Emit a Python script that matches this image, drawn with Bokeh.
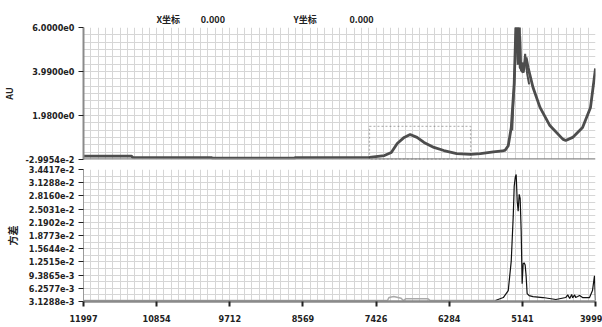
import numpy as np
from bokeh.plotting import figure
from bokeh.layouts import column
from bokeh.models import Range1d, FixedTicker, Span, BoxAnnotation, LinearAxis
from bokeh.embed import file_html
from bokeh.resources import INLINE

# ---------------- data ----------------
x_tick_labels = ["11997", "10854", "9712", "8569", "7426", "6284", "5141", "3999"]
x_ticks = [float(t) for t in x_tick_labels]

top_tick_values = [6.0, 3.99, 1.98, -0.029954]
top_tick_labels = ["6.0000e0", "3.9900e0", "1.9800e0", "-2.9954e-2"]

bot_tick_values = [0.034417, 0.031288, 0.028160, 0.025031, 0.021902, 0.018773,
                   0.015644, 0.012515, 0.0093865, 0.0062577, 0.0031288]
bot_tick_labels = ["3.4417e-2", "3.1288e-2", "2.8160e-2", "2.5031e-2", "2.1902e-2",
                   "1.8773e-2", "1.5644e-2", "1.2515e-2", "9.3865e-3", "6.2577e-3",
                   "3.1288e-3"]

# header readout ("X坐标 0.000  Y坐标 0.000"), placed along the x scale
title_texts = ["X坐标", "0.000", "Y坐标", "0.000"]
title_pos = [10673, 9976, 8536, 7654]

# mean spectrum (AU)
top_x = [11997, 11246, 11230, 10000, 9980, 8700, 8690, 7530, 7297, 7189, 7096, 6988,
         6895, 6787, 6678, 6523, 6368, 6167, 5950, 5795, 5594, 5450, 5408, 5362,
         5315, 5269, 5238, 5222, 5207, 5191, 5176, 5160, 5129, 5083, 5052, 4975,
         4866, 4712, 4510, 4464, 4356, 4201, 4077, 3999]
top_y = [0.12, 0.12, 0.07, 0.06, 0.03, 0.03, 0.06, 0.07, 0.15, 0.29, 0.70, 0.98,
         1.11, 0.98, 0.75, 0.52, 0.38, 0.24, 0.20, 0.24, 0.32, 0.36, 0.40, 0.60,
         1.43, 3.44, 6.50, 6.50, 4.30, 6.50, 4.17, 4.10, 3.94, 4.63, 4.17, 3.26,
         2.35, 1.52, 0.90, 0.84, 0.98, 1.43, 2.35, 4.13]

# spread of the spectra around the main peak
peak_x = [5300, 5253, 5238, 5222, 5207, 5191, 5176, 5160, 5145, 5129, 5114, 5098, 5083, 5067, 5036]
peak_y = [1.30, 4.60, 6.50, 5.20, 6.50, 4.60, 5.60, 4.00, 4.40, 4.10, 4.30, 4.80, 4.30, 3.90, 3.40]

# variance (方差)
bot_gray_x = [11997, 7250, 7223, 7150, 7036, 7000, 6960, 6620, 6580, 5563]
bot_gray_y = [0.00336, 0.00336, 0.00410, 0.00430, 0.00390, 0.00336, 0.00380, 0.00380,
              0.00336, 0.00336]

bot_x = [5563, 5439, 5362, 5315, 5284, 5269, 5253, 5238, 5222, 5207, 5191, 5176,
         5160, 5145, 5129, 5114, 5098, 5083, 5067, 5036, 4975, 4820, 4618, 4464,
         4433, 4402, 4371, 4356, 4325, 4309, 4278, 4247, 4201, 4092, 4046, 4015, 4000]
bot_y = [0.00336, 0.00407, 0.00572, 0.01277, 0.02336, 0.03042, 0.03253, 0.03324,
         0.02689, 0.02454, 0.02854, 0.02759, 0.01983, 0.00736, 0.01207, 0.01230,
         0.01180, 0.00924, 0.00501, 0.00454, 0.00430, 0.00407, 0.00360, 0.00407,
         0.00470, 0.00383, 0.00480, 0.00400, 0.00470, 0.00407, 0.00430, 0.00454,
         0.00407, 0.00407, 0.00572, 0.00924, 0.00336]

rect_bounds = {"left": 7530, "right": 5950, "bottom": -0.029954, "top": 1.48}

# ---------------- styling helpers ----------------
LABEL_FONT = "Liberation Sans Narrow, DejaVu Sans Condensed, Liberation Sans, sans-serif"
GRID = "#d6d6d6"
TXT = "#222222"


def minor_between(ticks, n):
    out = []
    for a, b in zip(ticks[:-1], ticks[1:]):
        out.extend(np.linspace(a, b, n + 1)[1:-1].tolist())
    return out


def style_y(ax):
    ax.major_tick_line_color = TXT
    ax.major_tick_out = 5
    ax.major_tick_in = 0
    ax.minor_tick_line_color = None
    ax.major_label_standoff = 4
    ax.major_label_text_font = LABEL_FONT
    ax.major_label_text_font_size = "9px"
    ax.major_label_text_font_style = "bold"
    ax.major_label_text_color = TXT
    ax.axis_label_text_font = "Noto Sans CJK SC"
    ax.axis_label_text_font_style = "bold"
    ax.axis_label_text_color = TXT
    ax.axis_label_standoff = 6


x_minor = minor_between(x_ticks, 10)

# ---------------- top panel ----------------
p1 = figure(width=602, height=164, output_backend="svg", toolbar_location=None,
            x_range=Range1d(x_ticks[0], x_ticks[-1]),
            y_range=Range1d(top_tick_values[-1], top_tick_values[0]),
            min_border_left=75, min_border_right=7, min_border_top=27,
            min_border_bottom=5)
p1.outline_line_color = None
p1.xaxis.visible = False
p1.xgrid.ticker = FixedTicker(ticks=x_ticks, minor_ticks=x_minor)
top_sorted = sorted(top_tick_values)
p1.yaxis.ticker = FixedTicker(ticks=top_tick_values,
                              minor_ticks=minor_between(top_sorted, 6))
p1.yaxis.major_label_overrides = {v: l for v, l in zip(top_tick_values, top_tick_labels)}
for g in (p1.xgrid, p1.ygrid):
    g.grid_line_color = GRID
    g.minor_grid_line_color = GRID
style_y(p1.yaxis)
p1.yaxis.axis_line_color = "#8a8a8a"
p1.yaxis.axis_line_width = 2
p1.yaxis.axis_label = "AU"
p1.yaxis.axis_label_text_font_size = "9px"

# header readout as an axis above the frame (no line, no ticks)
head = LinearAxis(ticker=FixedTicker(ticks=title_pos, minor_ticks=[]),
                  major_label_overrides={v: t for v, t in zip(title_pos, title_texts)},
                  axis_line_color=None, major_tick_line_color=None,
                  minor_tick_line_color=None, major_tick_out=0, major_tick_in=0,
                  minor_tick_out=0, minor_tick_in=0, major_label_standoff=2,
                  major_label_text_font="Noto Sans CJK SC",
                  major_label_text_font_size="9px",
                  major_label_text_font_style="bold",
                  major_label_text_color=TXT)
p1.add_layout(head, "above")

p1.add_layout(Span(location=top_tick_values[-1], dimension="width",
                   line_color="#8a8a8a", line_width=2.5))
p1.add_layout(BoxAnnotation(left=rect_bounds["left"], right=rect_bounds["right"],
                            bottom=rect_bounds["bottom"], top=rect_bounds["top"],
                            fill_alpha=0, line_color="#1a1a1a", line_width=1.3,
                            line_dash="2 2"))
p1.line(top_x, top_y, line_color="#4d4d4d", line_width=2.8)
p1.line(peak_x, peak_y, line_color="#4d4d4d", line_width=2)

# ---------------- bottom panel ----------------
p2 = figure(width=602, height=163, output_backend="svg", toolbar_location=None,
            x_range=p1.x_range,
            y_range=Range1d(bot_tick_values[-1], bot_tick_values[0]),
            min_border_left=75, min_border_right=7, min_border_top=5,
            min_border_bottom=26)
p2.outline_line_color = None
p2.xaxis.ticker = FixedTicker(ticks=x_ticks, minor_ticks=x_minor)
p2.xaxis.major_label_overrides = {v: l for v, l in zip(x_ticks, x_tick_labels)}
bot_sorted = sorted(bot_tick_values)
p2.yaxis.ticker = FixedTicker(ticks=bot_tick_values,
                              minor_ticks=minor_between(bot_sorted, 2))
p2.yaxis.major_label_overrides = {v: l for v, l in zip(bot_tick_values, bot_tick_labels)}
for g in (p2.xgrid, p2.ygrid):
    g.grid_line_color = GRID
    g.minor_grid_line_color = GRID

p2.xaxis.axis_line_color = "#8a8a8a"
p2.xaxis.axis_line_width = 2.5
p2.xaxis.major_tick_line_color = TXT
p2.xaxis.major_tick_line_width = 2
p2.xaxis.major_tick_out = 5
p2.xaxis.major_tick_in = 0
p2.xaxis.minor_tick_line_color = None
p2.xaxis.major_label_standoff = 8
p2.xaxis.major_label_text_font = LABEL_FONT
p2.xaxis.major_label_text_font_size = "9px"
p2.xaxis.major_label_text_font_style = "bold"
p2.xaxis.major_label_text_color = TXT

style_y(p2.yaxis)
p2.yaxis.axis_line_color = "#9a9a9a"
p2.yaxis.axis_line_width = 1
p2.yaxis.axis_label = "方差"
p2.yaxis.axis_label_text_font_size = "10px"

p2.line(bot_gray_x, bot_gray_y, line_color="#aaaaaa", line_width=1.5)
p2.line(bot_x, bot_y, line_color="#111111", line_width=1.2)

layout = column(p1, p2)
open("out.html", "w").write(file_html(layout, INLINE))
